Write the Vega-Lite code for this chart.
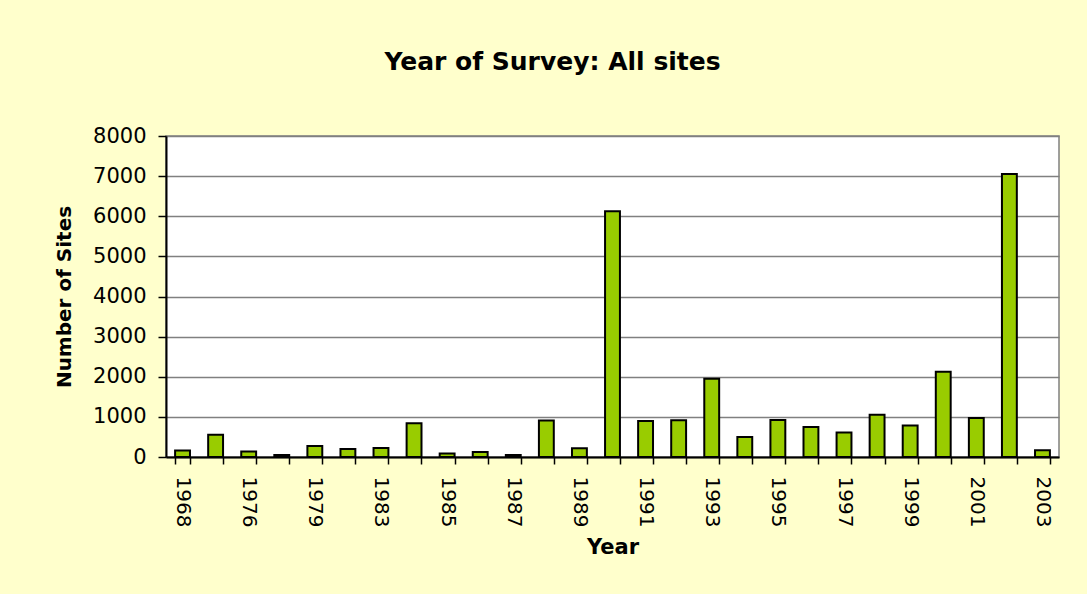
{
  "$schema": "https://vega.github.io/schema/vega-lite/v6.json",
  "width": 893,
  "height": 321,
  "autosize": "none",
  "padding": {"left": 166, "top": 136, "right": 28, "bottom": 137},
  "background": "#FFFFCC",
  "title": {
    "text": "Year of Survey: All sites",
    "font": "DejaVu Sans",
    "fontSize": 25,
    "fontWeight": "bold",
    "color": "#000000",
    "anchor": "middle",
    "frame": "group",
    "dx": -60,
    "offset": 50
  },
  "data": {
    "values": [
      {"year": "1968", "sites": 165},
      {"year": "1975", "sites": 555},
      {"year": "1976", "sites": 140},
      {"year": "1977", "sites": 50},
      {"year": "1979", "sites": 273},
      {"year": "1981", "sites": 200},
      {"year": "1983", "sites": 223},
      {"year": "1984", "sites": 843},
      {"year": "1985", "sites": 90},
      {"year": "1986", "sites": 124},
      {"year": "1987", "sites": 50},
      {"year": "1988", "sites": 909},
      {"year": "1989", "sites": 215},
      {"year": "1990", "sites": 6125},
      {"year": "1991", "sites": 900},
      {"year": "1992", "sites": 917},
      {"year": "1993", "sites": 1950},
      {"year": "1994", "sites": 500},
      {"year": "1995", "sites": 925},
      {"year": "1996", "sites": 750},
      {"year": "1997", "sites": 608},
      {"year": "1998", "sites": 1050},
      {"year": "1999", "sites": 783},
      {"year": "2000", "sites": 2125},
      {"year": "2001", "sites": 975},
      {"year": "2002", "sites": 7050},
      {"year": "2003", "sites": 167}
    ]
  },
  "mark": {"type": "bar", "fill": "#99CC00", "stroke": "#000000", "strokeWidth": 2},
  "encoding": {
    "x": {
      "field": "year",
      "type": "nominal",
      "sort": null,
      "title": "Year",
      "scale": {"paddingInner": 0.55, "paddingOuter": 0.275},
      "axis": {
        "labelAngle": 90,
        "labelAlign": "left",
        "labelBaseline": "middle",
        "labelFont": "DejaVu Sans",
        "labelFontSize": 20,
        "labelColor": "#000000",
        "labelPadding": 12,
        "labelExpr": "indexof(['1968','1976','1979','1983','1985','1987','1989','1991','1993','1995','1997','1999','2001','2003'], datum.value) >= 0 ? datum.label : ''",
        "tickBand": "extent",
        "tickSize": 7,
        "tickColor": "#000000",
        "tickWidth": 1.5,
        "domainColor": "#000000",
        "domainWidth": 2,
        "titleFont": "DejaVu Sans",
        "titleFontSize": 21,
        "titleFontWeight": "bold",
        "titleColor": "#000000",
        "titlePadding": 10
      }
    },
    "y": {
      "field": "sites",
      "type": "quantitative",
      "title": "Number of Sites",
      "scale": {"domain": [0, 8000], "nice": false},
      "axis": {
        "values": [0, 1000, 2000, 3000, 4000, 5000, 6000, 7000, 8000],
        "format": "d",
        "labelFont": "DejaVu Sans",
        "labelFontSize": 21,
        "labelColor": "#000000",
        "labelPadding": 12,
        "tickSize": 8,
        "tickColor": "#000000",
        "tickWidth": 1.5,
        "domainColor": "#000000",
        "domainWidth": 2,
        "grid": true,
        "gridColor": "#808080",
        "gridWidth": 1.5,
        "titleFont": "DejaVu Sans",
        "titleFontSize": 20,
        "titleFontWeight": "bold",
        "titleColor": "#000000",
        "titlePadding": 18
      }
    }
  },
  "config": {
    "view": {"fill": "#FFFFFF", "stroke": "#808080", "strokeWidth": 1.5}
  }
}
